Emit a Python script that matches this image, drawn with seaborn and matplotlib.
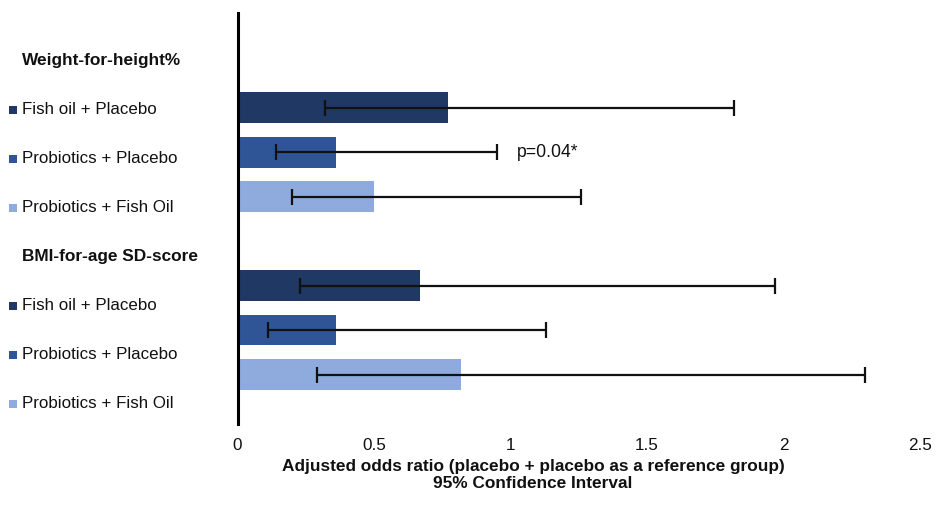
import numpy as np
import pandas as pd
import matplotlib
matplotlib.use("Agg")
import matplotlib.pyplot as plt
from matplotlib.patches import Rectangle
import seaborn as sns

# Adjusted odds ratios with 95% confidence intervals
groups = ["Weight-for-height%", "BMI-for-age SD-score"]
treatments = ["Fish oil + Placebo", "Probiotics + Placebo", "Probiotics + Fish Oil"]
odds_ratio = [0.77, 0.36, 0.50, 0.67, 0.36, 0.82]
ci_lower = [0.32, 0.14, 0.20, 0.23, 0.11, 0.29]
ci_upper = [1.82, 0.95, 1.26, 1.97, 1.13, 2.30]
x_ticks = [0, 0.5, 1, 1.5, 2, 2.5]
x_tick_labels = ["0", "0.5", "1", "1.5", "2", "2.5"]
p_label = "p=0.04*"
palette = {"Fish oil + Placebo": "#1F3864",
           "Probiotics + Placebo": "#2F5597",
           "Probiotics + Fish Oil": "#8FAADC"}

# one row slot per treatment, with an empty slot before each group for its heading
rows = []
for g, group in enumerate(groups):
    for t, treat in enumerate(treatments):
        rows.append({"group": group, "treatment": treat,
                     "slot": g * (len(treatments) + 1) + t + 1})
df = pd.DataFrame(rows)
df["odds_ratio"] = odds_ratio
df["lower"] = ci_lower
df["upper"] = ci_upper

sns.set_theme(style="white")
plt.rcParams["font.family"] = ["Liberation Sans", "DejaVu Sans"]
text_color = "#111111"

W, H = 936, 513
fig = plt.figure(figsize=(W / 100, H / 100), dpi=100)
ax_left, ax_right, ax_top, ax_bottom = 237.5, 920.0, 13.0, 424.0
ax = fig.add_axes([ax_left / W, 1 - ax_bottom / H,
                   (ax_right - ax_left) / W, (ax_bottom - ax_top) / H])

sns.barplot(data=df, x="odds_ratio", y="slot", hue="treatment", palette=palette,
            orient="h", native_scale=True, dodge=False, width=0.69,
            errorbar=None, legend=False, ax=ax, saturation=1, linewidth=0)

ax.errorbar(df["odds_ratio"], df["slot"],
            xerr=[df["odds_ratio"] - df["lower"], df["upper"] - df["odds_ratio"]],
            fmt="none", ecolor="#111111", elinewidth=1.6, capsize=5.5,
            capthick=1.6, zorder=5)

# significance note beside the second weight-for-height bar
sig_row = df[(df["group"] == groups[0]) & (df["treatment"] == treatments[1])].iloc[0]
ax.text(1.025, sig_row["slot"], p_label, va="center", ha="left",
        fontsize=12.7, color=text_color)

ax.set_xlim(0, 2.5)
ax.set_ylim(8.11, -1.13)
ax.set_xticks(x_ticks)
ax.set_xticklabels(x_tick_labels)
ax.set_yticks([])
ax.set_xlabel("")
ax.set_ylabel("")
ax.tick_params(axis="x", length=0, pad=10, labelsize=12.3, labelcolor=text_color)
for side in ["top", "right", "bottom"]:
    ax.spines[side].set_visible(False)
ax.spines["left"].set_color("black")
ax.spines["left"].set_linewidth(2.2)
ax.grid(False)

# category labels down the left side
label_top, label_step = 60.0, 49.14
k = 0
for group in groups:
    y = 1 - (label_top + label_step * k) / H
    fig.text(22 / W, y, group, ha="left", va="center", fontsize=12.4,
             fontweight="bold", color=text_color)
    k += 1
    for treat in treatments:
        y_px = label_top + label_step * k
        fig.text(22 / W, 1 - y_px / H, treat, ha="left", va="center",
                 fontsize=12.2, color=text_color)
        fig.patches.append(Rectangle((9 / W, 1 - (y_px + 4.5) / H), 8 / W, 8 / H,
                                     transform=fig.transFigure,
                                     facecolor=palette[treat], edgecolor="none"))
        k += 1

fig.text(533 / W, 1 - 466 / H,
         "Adjusted odds ratio (placebo + placebo as a reference group)",
         ha="center", va="center", fontsize=12.4, fontweight="bold", color=text_color)
fig.text(533 / W, 1 - 483 / H, "95% Confidence Interval",
         ha="center", va="center", fontsize=12.4, fontweight="bold", color=text_color)

fig.savefig("out.png", dpi=100)
